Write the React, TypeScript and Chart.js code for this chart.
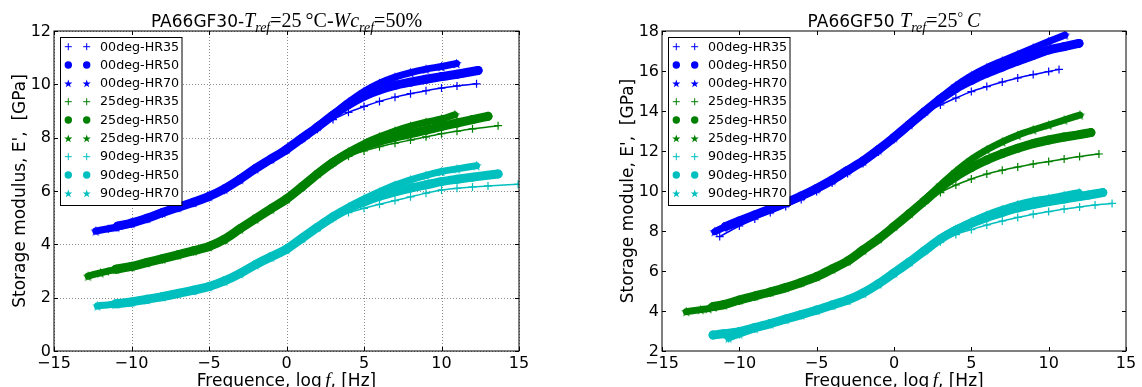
import React, { useEffect, useRef } from "react";
import { Chart, registerables } from "chart.js";

Chart.register(...registerables);

// ---------- tick labels / categories ----------
const X_TICKS = [-15, -10, -5, 0, 5, 10, 15];
const LEFT_Y_TICKS = [0, 2, 4, 6, 8, 10, 12];
const RIGHT_Y_TICKS = [2, 4, 6, 8, 10, 12, 14, 16, 18];

const SERIES_LABELS = [
  "00deg-HR35", "00deg-HR50", "00deg-HR70",
  "25deg-HR35", "25deg-HR50", "25deg-HR70",
  "90deg-HR35", "90deg-HR50", "90deg-HR70",
];

type P = [number, number];

// ---------- left panel: PA66GF30 ----------
const L_00_HR35: P[] = [[-11.5,4.58],[-11,4.62],[-10,4.76],[-9,4.94],[-8,5.15],[-7,5.35],[-6,5.54],[-5,5.76],[-4,6.03],[-3,6.39],[-2,6.79],[-1,7.16],[0,7.52],[1,7.92],[2,8.32],[3,8.68],[4,8.95],[5,9.17],[6,9.36],[7,9.52],[8,9.65],[9,9.76],[10,9.86],[11,9.94],[12.26,10.02]];
const L_00_HR50: P[] = [[-10.9,4.68],[-10,4.80],[-9,4.98],[-8,5.19],[-7,5.39],[-6,5.58],[-5,5.80],[-4,6.08],[-3,6.44],[-2,6.84],[-1,7.20],[0,7.56],[1,7.98],[2,8.40],[3,8.84],[4,9.24],[5,9.56],[6,9.79],[7,9.96],[8,10.08],[9,10.19],[10,10.29],[11,10.38],[12.36,10.52]];
const L_00_HR70: P[] = [[-12.3,4.50],[-11,4.64],[-10,4.79],[-9,4.97],[-8,5.18],[-7,5.38],[-6,5.57],[-5,5.79],[-4,6.07],[-3,6.43],[-2,6.83],[-1,7.20],[0,7.57],[1,8.00],[2,8.43],[3,8.88],[4,9.33],[5,9.73],[6,10.04],[7,10.27],[8,10.44],[9,10.57],[10,10.67],[10.97,10.78]];
const L_25_HR35: P[] = [[-11.5,2.98],[-11,3.04],[-10,3.14],[-9,3.29],[-8,3.43],[-7,3.58],[-6,3.73],[-5,3.89],[-4,4.16],[-3,4.55],[-2,4.93],[-1,5.30],[0,5.68],[1,6.14],[2,6.60],[3,7.00],[4,7.30],[5,7.50],[6,7.66],[7,7.79],[8,7.91],[9,8.03],[10,8.15],[11,8.24],[12,8.33],[13.65,8.45]];
const L_25_HR50: P[] = [[-11,3.07],[-10,3.17],[-9,3.32],[-8,3.46],[-7,3.61],[-6,3.76],[-5,3.92],[-4,4.19],[-3,4.58],[-2,4.96],[-1,5.33],[0,5.70],[1,6.16],[2,6.64],[3,7.07],[4,7.42],[5,7.68],[6,7.87],[7,8.02],[8,8.15],[9,8.28],[10,8.42],[11,8.55],[12,8.68],[13.0,8.80]];
const L_25_HR70: P[] = [[-12.8,2.81],[-12,2.93],[-11,3.06],[-10,3.16],[-9,3.31],[-8,3.45],[-7,3.60],[-6,3.75],[-5,3.91],[-4,4.18],[-3,4.57],[-2,4.95],[-1,5.32],[0,5.70],[1,6.17],[2,6.66],[3,7.10],[4,7.47],[5,7.78],[6,8.03],[7,8.25],[8,8.43],[9,8.58],[10,8.70],[10.86,8.86]];
const L_90_HR35: P[] = [[-11.2,1.74],[-10,1.82],[-9,1.92],[-8,2.02],[-7,2.14],[-6,2.26],[-5,2.40],[-4,2.61],[-3,2.89],[-2,3.22],[-1,3.50],[0,3.79],[1,4.20],[2,4.61],[3,4.97],[4,5.19],[5,5.35],[6,5.50],[7,5.64],[8,5.78],[9,5.92],[10,6.04],[11,6.10],[12,6.15],[13,6.19],[14.94,6.25]];
const L_90_HR50: P[] = [[-11,1.77],[-10,1.84],[-9,1.94],[-8,2.04],[-7,2.16],[-6,2.28],[-5,2.42],[-4,2.63],[-3,2.91],[-2,3.24],[-1,3.53],[0,3.82],[1,4.23],[2,4.64],[3,5.03],[4,5.35],[5,5.59],[6,5.80],[7,5.97],[8,6.11],[9,6.23],[10,6.35],[11,6.44],[12,6.52],[13.65,6.64]];
const L_90_HR70: P[] = [[-12.2,1.69],[-11,1.76],[-10,1.83],[-9,1.93],[-8,2.03],[-7,2.15],[-6,2.27],[-5,2.41],[-4,2.62],[-3,2.90],[-2,3.23],[-1,3.52],[0,3.81],[1,4.23],[2,4.65],[3,5.05],[4,5.40],[5,5.70],[6,5.97],[7,6.22],[8,6.42],[9,6.59],[10,6.73],[11,6.83],[12.26,6.95]];

// ---------- right panel: PA66GF50 ----------
const R_00_HR35: P[] = [[-11.27,7.72],[-10,8.25],[-9,8.60],[-8,8.92],[-7,9.23],[-6,9.58],[-5,9.97],[-4,10.40],[-3,10.88],[-2,11.38],[-1,11.95],[0,12.58],[1,13.25],[2,13.88],[3,14.30],[4,14.65],[5,14.97],[6,15.22],[7,15.45],[8,15.65],[9,15.82],[10,15.97],[10.67,16.08]];
const R_00_HR50: P[] = [[-10.9,8.22],[-10,8.50],[-9,8.80],[-8,9.10],[-7,9.41],[-6,9.75],[-5,10.13],[-4,10.55],[-3,11.03],[-2,11.50],[-1,12.07],[0,12.68],[1,13.33],[2,13.98],[3,14.60],[4,15.12],[5,15.53],[6,15.89],[7,16.20],[8,16.50],[9,16.78],[10,17.05],[11,17.22],[11.96,17.38]];
const R_00_HR70: P[] = [[-11.59,7.97],[-11,8.17],[-10,8.47],[-9,8.77],[-8,9.07],[-7,9.38],[-6,9.72],[-5,10.10],[-4,10.52],[-3,11.00],[-2,11.48],[-1,12.05],[0,12.66],[1,13.32],[2,13.98],[3,14.65],[4,15.26],[5,15.76],[6,16.17],[7,16.50],[8,16.82],[9,17.15],[10,17.47],[11.05,17.80]];
const R_25_HR35: P[] = [[-11.5,4.18],[-11,4.28],[-10,4.50],[-9,4.70],[-8,4.90],[-7,5.12],[-6,5.38],[-5,5.67],[-4,6.05],[-3,6.45],[-2,7.00],[-1,7.55],[0,8.18],[1,8.80],[2,9.42],[3,9.92],[4,10.30],[5,10.60],[6,10.85],[7,11.04],[8,11.20],[9,11.35],[10,11.47],[11,11.60],[12,11.72],[13.25,11.85]];
const R_25_HR50: P[] = [[-11.7,4.22],[-11,4.32],[-10,4.55],[-9,4.75],[-8,4.95],[-7,5.17],[-6,5.43],[-5,5.72],[-4,6.10],[-3,6.50],[-2,7.05],[-1,7.60],[0,8.22],[1,8.86],[2,9.52],[3,10.16],[4,10.72],[5,11.17],[6,11.55],[7,11.87],[8,12.14],[9,12.37],[10,12.55],[11,12.70],[12,12.82],[12.73,12.92]];
const R_25_HR70: P[] = [[-13.43,3.97],[-12.5,4.07],[-12,4.12],[-11,4.30],[-10,4.55],[-9,4.75],[-8,4.95],[-7,5.17],[-6,5.43],[-5,5.72],[-4,6.10],[-3,6.50],[-2,7.05],[-1,7.62],[0,8.24],[1,8.88],[2,9.58],[3,10.30],[4,10.98],[5,11.58],[6,12.06],[7,12.46],[8,12.79],[9,13.06],[10,13.30],[11,13.55],[12.02,13.80]];
const R_90_HR35: P[] = [[-10.7,2.62],[-10,2.82],[-9,3.10],[-8,3.33],[-7,3.56],[-6,3.78],[-5,4.02],[-4,4.26],[-3,4.50],[-2,4.86],[-1,5.32],[0,5.86],[1,6.40],[2,6.96],[3,7.46],[4,7.82],[5,8.07],[6,8.30],[7,8.50],[8,8.68],[9,8.84],[10,8.97],[11,9.10],[12,9.20],[13,9.30],[14.1,9.38]];
const R_90_HR50: P[] = [[-11.7,2.80],[-11,2.86],[-10,2.97],[-9,3.17],[-8,3.37],[-7,3.60],[-6,3.82],[-5,4.05],[-4,4.30],[-3,4.55],[-2,4.90],[-1,5.36],[0,5.90],[1,6.45],[2,7.03],[3,7.60],[4,8.04],[5,8.38],[6,8.68],[7,8.93],[8,9.15],[9,9.32],[10,9.47],[11,9.60],[12,9.72],[12.6,9.80],[13.5,9.92]];
const R_90_HR70: P[] = [[-10.7,2.65],[-10,2.85],[-9,3.12],[-8,3.35],[-7,3.58],[-6,3.80],[-5,4.04],[-4,4.28],[-3,4.53],[-2,4.88],[-1,5.35],[0,5.90],[1,6.46],[2,7.05],[3,7.63],[4,8.09],[5,8.47],[6,8.80],[7,9.08],[8,9.32],[9,9.50],[10,9.63],[11,9.78],[11.96,9.92]];

const LEFT_SERIES = [L_00_HR35, L_00_HR50, L_00_HR70, L_25_HR35, L_25_HR50, L_25_HR70, L_90_HR35, L_90_HR50, L_90_HR70];
const RIGHT_SERIES = [R_00_HR35, R_00_HR50, R_00_HR70, R_25_HR35, R_25_HR50, R_25_HR70, R_90_HR35, R_90_HR50, R_90_HR70];

const COLORS = ["#0000ff", "#008000", "#00bfbf"];
const SANS = '"DejaVu Sans", sans-serif';
const SERIF = '"Liberation Serif", "DejaVu Serif", serif';

type Seg = { t: string; f: string; dy?: number };

const LEFT_TITLE: Seg[] = [
  { t: "PA66GF30-", f: `17px ${SANS}` },
  { t: "T", f: `italic 20px ${SERIF}` },
  { t: "ref", f: `italic 14px ${SERIF}`, dy: 5 },
  { t: "=25", f: `20px ${SERIF}` },
  { t: "\u2009°C", f: `20px ${SERIF}` },
  { t: "-", f: `20px ${SERIF}` },
  { t: "Wc", f: `italic 20px ${SERIF}` },
  { t: "ref", f: `italic 14px ${SERIF}`, dy: 5 },
  { t: "=50%", f: `20px ${SERIF}` },
];
const RIGHT_TITLE: Seg[] = [
  { t: "PA66GF50 ", f: `17px ${SANS}` },
  { t: "T", f: `italic 20px ${SERIF}` },
  { t: "ref", f: `italic 14px ${SERIF}`, dy: 5 },
  { t: "=25", f: `20px ${SERIF}` },
  { t: "°", f: `14px ${SERIF}`, dy: -5 },
  { t: "\u2009", f: `20px ${SERIF}` },
  { t: "C", f: `italic 20px ${SERIF}` },
];
const X_LABEL: Seg[] = [
  { t: "Frequence, log\u2009", f: `17px ${SANS}` },
  { t: "f", f: `italic 19px ${SERIF}` },
  { t: ", [Hz]", f: `17px ${SANS}` },
];

function starPath(g: CanvasRenderingContext2D, cx: number, cy: number, R: number) {
  const r = R * 0.4;
  g.beginPath();
  for (let k = 0; k < 10; k++) {
    const a = -Math.PI / 2 + (k * Math.PI) / 5;
    const rr = k % 2 === 0 ? R : r;
    const x = cx + rr * Math.cos(a);
    const y = cy + rr * Math.sin(a);
    if (k === 0) g.moveTo(x, y);
    else g.lineTo(x, y);
  }
  g.closePath();
}

function starCanvas(color: string, R: number) {
  const c = document.createElement("canvas");
  const s = Math.ceil(R * 2 + 2);
  c.width = s;
  c.height = s;
  const g = c.getContext("2d")!;
  starPath(g, s / 2, s / 2 + 0.5, R);
  g.fillStyle = color;
  g.fill();
  return c;
}

function drawRich(ctx: CanvasRenderingContext2D, segs: Seg[], cx: number, y: number) {
  let w = 0;
  for (const s of segs) {
    ctx.font = s.f;
    w += ctx.measureText(s.t).width;
  }
  let x = cx - w / 2;
  ctx.textAlign = "left";
  ctx.textBaseline = "alphabetic";
  for (const s of segs) {
    ctx.font = s.f;
    ctx.fillText(s.t, x, y + (s.dy || 0));
    x += ctx.measureText(s.t).width;
  }
}

function buildDatasets(series: P[][], stars: HTMLCanvasElement[]) {
  return series.map((pts, i) => {
    const color = COLORS[Math.floor(i / 3)];
    const kind = i % 3;
    const base: any = {
      label: SERIES_LABELS[i],
      data: pts.map(([x, y]) => ({ x, y })),
      showLine: true,
      borderColor: color,
      backgroundColor: color,
      cubicInterpolationMode: "monotone",
      borderCapStyle: "round",
      borderJoinStyle: "round",
      order: 20 - i,
    };
    if (kind === 0)
      return { ...base, borderWidth: 1.5, pointStyle: "cross", pointRadius: 4, pointBorderWidth: 1.2, pointBorderColor: color };
    if (kind === 1)
      return { ...base, borderWidth: 9, pointStyle: "circle", pointRadius: 4.5, pointBorderWidth: 0, pointBackgroundColor: color };
    return { ...base, borderWidth: 7, pointStyle: stars[Math.floor(i / 3)], pointRadius: 5 };
  });
}

function makeDecor(opts: { title: Seg[]; yTitle: string; yTicks: number[]; grid: boolean }) {
  return {
    id: "decor",
    beforeDatasetsDraw(chart: any) {
      if (!opts.grid) return;
      const { ctx, chartArea: a, scales } = chart;
      ctx.save();
      ctx.strokeStyle = "rgba(0,0,0,0.45)";
      ctx.lineWidth = 1;
      ctx.setLineDash([1, 2]);
      for (const v of X_TICKS) {
        const x = Math.round(scales.x.getPixelForValue(v)) + 0.5;
        ctx.beginPath();
        ctx.moveTo(x, a.top);
        ctx.lineTo(x, a.bottom);
        ctx.stroke();
      }
      for (const v of opts.yTicks) {
        const y = Math.round(scales.y.getPixelForValue(v)) + 0.5;
        ctx.beginPath();
        ctx.moveTo(a.left, y);
        ctx.lineTo(a.right, y);
        ctx.stroke();
      }
      ctx.restore();
    },
    afterDatasetsDraw(chart: any) {
      const { ctx, chartArea: a, scales } = chart;
      ctx.save();
      // frame
      ctx.strokeStyle = "#000";
      ctx.lineWidth = 1;
      ctx.strokeRect(a.left, a.top, a.right - a.left, a.bottom - a.top);
      // ticks
      ctx.beginPath();
      for (const v of X_TICKS) {
        const x = Math.round(scales.x.getPixelForValue(v)) + 0.5;
        ctx.moveTo(x, a.bottom);
        ctx.lineTo(x, a.bottom - 4);
        ctx.moveTo(x, a.top);
        ctx.lineTo(x, a.top + 4);
      }
      for (const v of opts.yTicks) {
        const y = Math.round(scales.y.getPixelForValue(v)) + 0.5;
        ctx.moveTo(a.left, y);
        ctx.lineTo(a.left + 4, y);
        ctx.moveTo(a.right, y);
        ctx.lineTo(a.right - 4, y);
      }
      ctx.stroke();
      // tick labels
      ctx.fillStyle = "#000";
      ctx.font = `16px ${SANS}`;
      ctx.textAlign = "center";
      ctx.textBaseline = "alphabetic";
      for (const v of X_TICKS) {
        ctx.fillText(String(v).replace("-", "\u2212"), scales.x.getPixelForValue(v), 368);
      }
      ctx.textAlign = "right";
      ctx.textBaseline = "middle";
      for (const v of opts.yTicks) {
        ctx.fillText(String(v), a.left - 3, scales.y.getPixelForValue(v) + 0.5);
      }
      // axis titles
      const cx = (a.left + a.right) / 2;
      ctx.fillStyle = "#000";
      drawRich(ctx, X_LABEL, cx, 385.5);
      ctx.save();
      ctx.translate(a.left - 29.5, (a.top + a.bottom) / 2);
      ctx.rotate(-Math.PI / 2);
      ctx.font = `17px ${SANS}`;
      ctx.textAlign = "center";
      ctx.textBaseline = "alphabetic";
      ctx.fillText(opts.yTitle, 0, 0);
      ctx.restore();
      // title
      drawRich(ctx, opts.title, cx, 26.5);
      // legend
      const bx = a.left + 6;
      const by = a.top + 6;
      const bw = 121.5;
      const bh = 168;
      ctx.fillStyle = "#fff";
      ctx.fillRect(bx, by, bw, bh);
      ctx.strokeStyle = "#000";
      ctx.lineWidth = 1;
      ctx.strokeRect(bx + 0.5, by + 0.5, bw, bh);
      chart.data.datasets.forEach((ds: any, i: number) => {
        const y = by + 9.7 + i * 18.33;
        const color = COLORS[Math.floor(i / 3)];
        const kind = i % 3;
        for (const mx of [bx + 8.3, bx + 26.7]) {
          ctx.fillStyle = color;
          ctx.strokeStyle = color;
          if (kind === 0) {
            ctx.lineWidth = 1;
            ctx.beginPath();
            ctx.moveTo(mx - 3.5, y);
            ctx.lineTo(mx + 3.5, y);
            ctx.moveTo(mx, y - 3.5);
            ctx.lineTo(mx, y + 3.5);
            ctx.stroke();
          } else if (kind === 1) {
            ctx.beginPath();
            ctx.arc(mx, y, 3.7, 0, Math.PI * 2);
            ctx.fill();
          } else {
            starPath(ctx, mx, y + 0.5, 4.3);
            ctx.fill();
          }
        }
        ctx.fillStyle = "#000";
        ctx.font = `12.7px ${SANS}`;
        ctx.textAlign = "left";
        ctx.textBaseline = "middle";
        ctx.fillText(ds.label, bx + 40, y + 0.5);
      });
      ctx.restore();
    },
  };
}

function makeConfig(series: P[][], stars: HTMLCanvasElement[], yMin: number, yMax: number, padL: number, padR: number, decor: any): any {
  return {
    type: "scatter",
    data: { datasets: buildDatasets(series, stars) },
    options: {
      animation: false,
      responsive: false,
      devicePixelRatio: 1,
      events: [],
      layout: { padding: { left: padL, right: padR, top: 31, bottom: 36 } },
      scales: {
        x: { type: "linear", min: -15, max: 15, display: false },
        y: { type: "linear", min: yMin, max: yMax, display: false },
      },
      plugins: { legend: { display: false }, title: { display: false }, tooltip: { enabled: false } },
    },
    plugins: [decor],
  };
}

export default function App() {
  const leftRef = useRef<HTMLCanvasElement>(null);
  const rightRef = useRef<HTMLCanvasElement>(null);

  useEffect(() => {
    const stars = COLORS.map((c) => starCanvas(c, 5.5));
    const c1 = new Chart(
      leftRef.current!,
      makeConfig(LEFT_SERIES, stars, 0, 12, 54, 52,
        makeDecor({ title: LEFT_TITLE, yTitle: "Storage modulus, E',  [GPa]", yTicks: LEFT_Y_TICKS, grid: true }))
    );
    const c2 = new Chart(
      rightRef.current!,
      makeConfig(RIGHT_SERIES, stars, 2, 18, 91, 16,
        makeDecor({ title: RIGHT_TITLE, yTitle: "Storage module, E',  [GPa]", yTicks: RIGHT_Y_TICKS, grid: false }))
    );
    return () => {
      c1.destroy();
      c2.destroy();
    };
  }, []);

  return (
    <div style={{ position: "fixed", left: 0, top: 0, width: 1142, height: 387, background: "#fff", overflow: "hidden" }}>
      <canvas ref={leftRef} width={571} height={387} style={{ position: "absolute", left: 0, top: 0 }} />
      <canvas ref={rightRef} width={571} height={387} style={{ position: "absolute", left: 571, top: 0 }} />
    </div>
  );
}
